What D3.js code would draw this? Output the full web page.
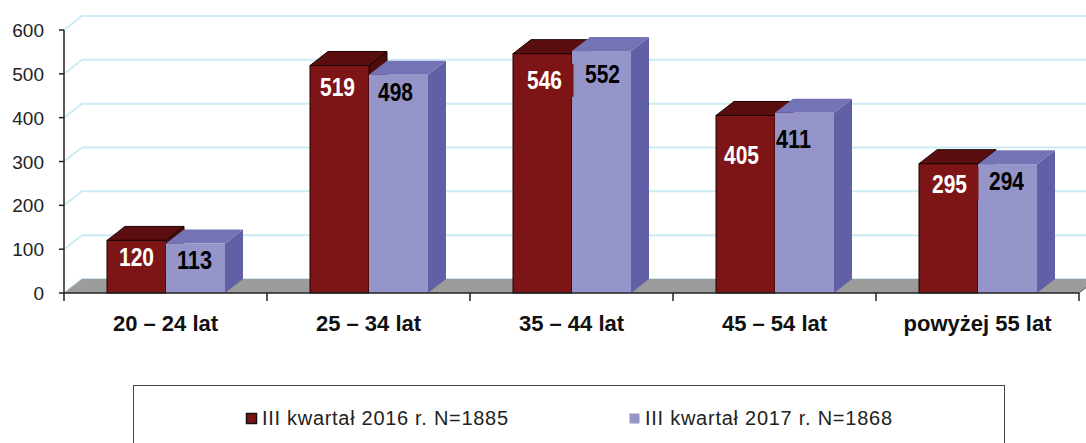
<!DOCTYPE html>
<html>
<head>
<meta charset="utf-8">
<script src="https://cdn.jsdelivr.net/npm/d3@7"></script>
<style>
    body { margin: 0; background: #fff; }
    svg text { font-family: Arial, "Liberation Sans", sans-serif; }
</style>
</head>
<body>
<svg id="chart" width="1086" height="443"></svg>
<script>
// data
const categories = ['20 – 24 lat', '25 – 34 lat', '35 – 44 lat', '45 – 54 lat', 'powyżej 55 lat']
const values2016 = [120, 519, 546, 405, 295]
const values2017 = [113, 498, 552, 411, 294]
const seriesNames = ['III kwartał 2016 r. N=1885', 'III kwartał 2017 r. N=1868']
const yTicks = [0, 100, 200, 300, 400, 500, 600]

// label nudges (px) as placed in the original
const labelDy2016 = [17, 21, 26, 40, 20]
const labelDy2017 = [17, 17, 23, 26, 17]
const labelDx2016 = [0, -2, 2, -4, 1]
const labelDx2017 = [-1, -3, 1, -11, -1]

const svg = d3.select('#chart')
const plotLeft = 64, plotRight = 1079, plotBase = 293, plotTop = 30
const depthX = 18, depthY = -14

const x = d3.scaleBand().domain(categories).range([plotLeft, plotRight])
const y = d3.scaleLinear().domain([0, 600]).range([plotBase, plotTop])
const barW = 59, barGap = 43

const colors = {
    red:  { front: '#7d1416', top: '#5b0e0f', side: '#4e0b0c' },
    blue: { front: '#9595c9', top: '#7473b6', side: '#6160a6' }
}

// back wall gridlines
const grid = svg.append('g')
yTicks.forEach(t => {
    grid.append('path')
        .attr('d', `M${plotLeft},${y(t)} L${plotLeft + depthX},${y(t) + depthY} L1086,${y(t) + depthY}`)
        .attr('fill', 'none')
        .attr('stroke', '#cbecf4')
        .attr('stroke-width', 2)
})

// floor
svg.append('path')
    .attr('d', `M${plotLeft},${plotBase} L${plotRight},${plotBase} L${plotRight + depthX},${plotBase + depthY} L${plotLeft + depthX},${plotBase + depthY} Z`)
    .attr('fill', '#9c9c9c')
svg.append('path')
    .attr('d', `M${plotRight},${plotBase} L${plotRight + depthX},${plotBase + depthY}`)
    .attr('stroke', '#555').attr('stroke-width', 1)

function drawBar(g, x0, v, c, outline){
    const yt = y(v)
    const x1 = x0 + barW
    const stroke = outline ? '#1a0303' : 'none'
    g.append('path')
        .attr('d', `M${x1},${plotBase} L${x1 + depthX},${plotBase + depthY} L${x1 + depthX},${yt + depthY} L${x1},${yt} Z`)
        .attr('fill', c.side)
        .attr('stroke', stroke).attr('stroke-width', 1)
    g.append('path')
        .attr('d', `M${x0},${yt} L${x0 + depthX},${yt + depthY} L${x1 + depthX},${yt + depthY} L${x1},${yt} Z`)
        .attr('fill', c.top)
        .attr('stroke', stroke).attr('stroke-width', 1)
    g.append('rect')
        .attr('x', x0).attr('y', yt)
        .attr('width', barW).attr('height', plotBase - yt)
        .attr('fill', c.front)
        .attr('stroke', stroke).attr('stroke-width', 1)
}

const bars = svg.append('g')
categories.forEach((cat, i) => {
    const xr = x(cat) + barGap
    drawBar(bars, xr, values2016[i], colors.red, true)
    drawBar(bars, xr + barW, values2017[i], colors.blue, false)
})

// value labels (narrow bold digits)
const labels = svg.append('g')
    .attr('font-weight', 'bold')
    .attr('font-size', 25)
    .attr('text-anchor', 'middle')

categories.forEach((cat, i) => {
    const xr = x(cat) + barGap
    const cx1 = xr + barW / 2 + labelDx2016[i]
    const cy1 = y(values2016[i]) + labelDy2016[i]
    labels.append('rect')
        .attr('x', cx1 - 22).attr('y', cy1 - 16)
        .attr('width', 51).attr('height', 33)
        .attr('fill', colors.red.front)
    labels.append('text')
        .attr('x', cx1).attr('y', cy1 + 9)
        .attr('fill', '#fff')
        .attr('textLength', 35)
        .attr('lengthAdjust', 'spacingAndGlyphs')
        .text(values2016[i])

    const cx2 = xr + barW * 1.5 + labelDx2017[i]
    const cy2 = y(values2017[i]) + labelDy2017[i]
    labels.append('text')
        .attr('x', cx2).attr('y', cy2 + 9)
        .attr('fill', '#000')
        .attr('textLength', 35)
        .attr('lengthAdjust', 'spacingAndGlyphs')
        .text(values2017[i])
})

// y axis
const yAxis = svg.append('g')
yAxis.append('line')
    .attr('x1', plotLeft).attr('x2', plotLeft)
    .attr('y1', plotTop).attr('y2', plotBase)
    .attr('stroke', '#222').attr('stroke-width', 1.5)
yTicks.forEach(t => {
    yAxis.append('line')
        .attr('x1', plotLeft - 5).attr('x2', plotLeft)
        .attr('y1', y(t)).attr('y2', y(t))
        .attr('stroke', '#222').attr('stroke-width', 1.5)
    yAxis.append('text')
        .attr('x', 44).attr('y', y(t) + 7)
        .attr('text-anchor', 'end')
        .attr('font-size', 19)
        .attr('fill', '#222')
        .text(t)
})

// x axis
const xAxis = svg.append('g')
xAxis.append('line')
    .attr('x1', plotLeft).attr('x2', plotRight)
    .attr('y1', plotBase).attr('y2', plotBase)
    .attr('stroke', '#222').attr('stroke-width', 1.5)
d3.range(categories.length + 1).forEach(i => {
    const xt = plotLeft + i * x.bandwidth()
    xAxis.append('line')
        .attr('x1', xt).attr('x2', xt)
        .attr('y1', plotBase).attr('y2', plotBase + 8)
        .attr('stroke', '#222').attr('stroke-width', 1.5)
})
categories.forEach(cat => {
    xAxis.append('text')
        .attr('x', x(cat) + x.bandwidth() / 2)
        .attr('y', 331)
        .attr('text-anchor', 'middle')
        .attr('font-size', 22)
        .attr('font-weight', 'bold')
        .attr('fill', '#111')
        .text(cat)
})

// legend
const legend = svg.append('g')
legend.append('rect')
    .attr('x', 133.5).attr('y', 385.5)
    .attr('width', 871).attr('height', 80)
    .attr('fill', '#fff')
    .attr('stroke', '#444').attr('stroke-width', 1)

const legendItems = [
    { name: seriesNames[0], color: colors.red.front, stroke: '#111', x: 246, len: 246 },
    { name: seriesNames[1], color: colors.blue.front, stroke: 'none', x: 629, len: 247 }
]
legendItems.forEach(d => {
    legend.append('rect')
        .attr('x', d.x + 0.5).attr('y', 413.5)
        .attr('width', 10).attr('height', 10)
        .attr('fill', d.color)
        .attr('stroke', d.stroke).attr('stroke-width', 1.5)
    legend.append('text')
        .attr('x', d.x + 16).attr('y', 425)
        .attr('font-size', 20)
        .attr('fill', '#222')
        .attr('textLength', d.len)
        .attr('lengthAdjust', 'spacing')
        .text(d.name)
})
</script>
</body>
</html>
